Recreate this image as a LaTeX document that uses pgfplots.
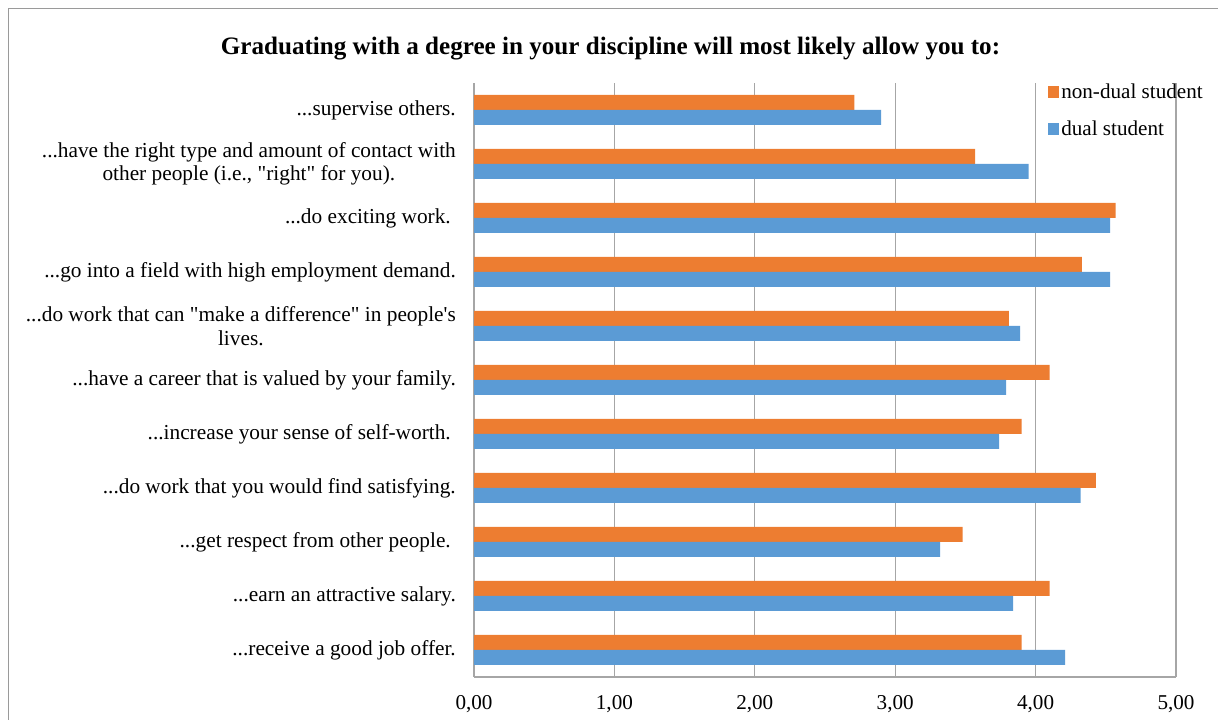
\documentclass[border=0pt]{standalone}
\usepackage{fontspec}
\setmainfont{Liberation Serif}[Ligatures=TeXOff]
\usepackage{pgfplots}
\pgfplotsset{compat=1.18}
\definecolor{orangebar}{HTML}{ED7D31}
\definecolor{bluebar}{HTML}{5B9BD5}
\definecolor{gridgray}{HTML}{A6A6A6}
\definecolor{framegray}{HTML}{9A9A9A}
\protected\def\tdots{...}
\protected\def\dq{\symbol{34}}
\protected\def\ap{\symbol{39}}
\begin{document}
\begin{tikzpicture}
\useasboundingbox (0bp,0bp) rectangle (1218bp,720bp);
\draw[framegray, line width=1.2bp] (8.5bp,-20bp) -- (8.5bp,711.5bp) -- (1240bp,711.5bp);
\node[anchor=base, inner sep=0pt, font=\fontsize{25.2}{30}\selectfont\bfseries] at (610.5bp,665.7bp) {Graduating with a degree in your discipline will most likely allow you to:};
\begin{axis}[
  at={(474bp,43bp)}, anchor=south west,
  scale only axis, width=702bp, height=594bp,
  xbar, bar width=15bp,
  xmin=0, xmax=5, ymin=-0.5, ymax=10.5,
  xtick={0,1,2,3,4,5}, ytick={0,1,2,3,4,5,6,7,8,9,10},
  yticklabels={
    {\tdots receive a good job offer.},
    {\tdots earn an attractive salary.},
    {\tdots get respect from other people.\hspace{5bp}},
    {\tdots do work that you would find satisfying.},
    {\tdots increase your sense of self-worth.\hspace{5bp}},
    {\tdots have a career that is valued by your family.},
    {\tdots do work that can \dq make a difference\dq{} in people\ap s\\lives.},
    {\tdots go into a field with high employment demand.},
    {\tdots do exciting work.\hspace{5bp}},
    {\tdots have the right type and amount of contact with\\other people (i.e., \dq right\dq{} for you).},
    {\tdots supervise others.}
  },
  axis x line=bottom, axis y line=left,
  axis line style={gridgray, line width=1.2bp, -},
  major tick length=0pt, tick style={draw=none},
  xmajorgrids, grid style={gridgray, line width=1.2bp},
  /pgf/number format/.cd, fixed, fixed zerofill, precision=2, use comma, assume math mode=true,
  /pgfplots/.cd,
  xticklabel style={anchor=base, yshift=-33bp, inner sep=0pt, font=\fontsize{21.2}{25}\selectfont},
  yticklabel style={anchor=east, xshift=-18bp, inner sep=0pt, align=center, font=\fontsize{21.4}{23.5}\selectfont},
  legend style={at={(rel axis cs:0.813,1.004)}, anchor=north west, draw=none, fill=none,
    font=\fontsize{21.2}{25}\selectfont, row sep=19bp, column sep=2bp, nodes={inner sep=1bp}},
  legend cell align=left,
]
\addplot[fill=orangebar, draw=none, bar shift=7.5bp, forget plot] coordinates {
  (3.90,0) (4.10,1) (3.48,2) (4.43,3) (3.90,4) (4.10,5) (3.81,6) (4.33,7) (4.57,8) (3.57,9) (2.71,10)};
\addplot[fill=bluebar, draw=none, bar shift=-7.5bp, forget plot] coordinates {
  (4.21,0) (3.84,1) (3.32,2) (4.32,3) (3.74,4) (3.79,5) (3.89,6) (4.53,7) (4.53,8) (3.95,9) (2.90,10)};
\addlegendimage{legend image code/.code={\fill[orangebar] (0bp,-5.5bp) rectangle (10bp,5.5bp);}}
\addlegendentry{non-dual student}
\addlegendimage{legend image code/.code={\fill[bluebar] (0bp,-5.5bp) rectangle (10bp,5.5bp);}}
\addlegendentry{dual student}
\end{axis}
\end{tikzpicture}
\end{document}
